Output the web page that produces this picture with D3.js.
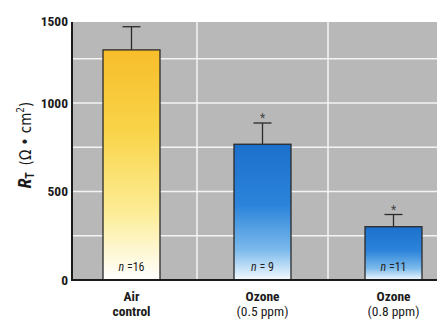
<!DOCTYPE html>
<html><head><meta charset="utf-8">
<script src="https://cdn.jsdelivr.net/npm/d3@7/dist/d3.min.js"></script>
<style>
body{margin:0;background:#fff;}
text{font-family:"Liberation Sans Narrow","Roboto Condensed","Arial Narrow","DejaVu Sans Condensed",sans-serif;font-stretch:condensed;}
</style></head>
<body><svg id="c" width="437" height="320"></svg>
<script>
const categories = ["Air control", "Ozone (0.5 ppm)", "Ozone (0.8 ppm)"];
const labelLine1 = ["Air", "Ozone", "Ozone"];
const labelLine2 = ["control", "(0.5 ppm)", "(0.8 ppm)"];
const means = [1300, 767, 301];
const errors = [131, 120, 69];
const nLabels = ["16", "9", "11"];
const significant = [false, true, true];
const yTicks = [0, 500, 1000, 1500];
const yGrid = [250, 500, 750, 1000, 1250];

const svg = d3.select("#c");
const left = 72, right = 459, bottom = 280, plotTop = 22;
const y = d3.scaleLinear().domain([0, 1500]).range([bottom, 14.5]);
const x = d3.scaleBand().domain(categories).range([66, right]).padding(0);
const barW = x.bandwidth() * 0.435;

const defs = svg.append("defs");
const gy = defs.append("linearGradient").attr("id","gy").attr("x1",0).attr("y1",0).attr("x2",0).attr("y2",1);
gy.append("stop").attr("offset","0%").attr("stop-color","#f7bd2b");
gy.append("stop").attr("offset","35%").attr("stop-color","#f9d448");
gy.append("stop").attr("offset","70%").attr("stop-color","#fcec94");
gy.append("stop").attr("offset","100%").attr("stop-color","#ffffff");
const gb = defs.append("linearGradient").attr("id","gb").attr("x1",0).attr("y1",0).attr("x2",0).attr("y2",1);
gb.append("stop").attr("offset","0%").attr("stop-color","#1c70cc");
gb.append("stop").attr("offset","45%").attr("stop-color","#2c84da");
gb.append("stop").attr("offset","78%").attr("stop-color","#7cbaec");
gb.append("stop").attr("offset","100%").attr("stop-color","#f4faff");

// background
svg.append("rect").attr("x", left).attr("y", plotTop).attr("width", 437 - left).attr("height", bottom - plotTop).attr("fill", "#b8b8b8");

// grid
svg.append("g").selectAll("line").data(yGrid).join("line")
  .attr("x1", left).attr("x2", 437).attr("y1", d => y(d)).attr("y2", d => y(d))
  .attr("stroke", "#f4f4f4").attr("stroke-width", 1.5);
svg.append("g").selectAll("line").data(categories.slice(1)).join("line")
  .attr("x1", d => x(d)).attr("x2", d => x(d)).attr("y1", plotTop).attr("y2", bottom)
  .attr("stroke", "#f4f4f4").attr("stroke-width", 1.5);

// bars
const g = svg.append("g").selectAll("g").data(categories).join("g");
g.append("rect")
  .attr("x", d => x(d) + x.bandwidth()/2 - barW/2)
  .attr("y", (d,i) => y(means[i]))
  .attr("width", barW)
  .attr("height", (d,i) => bottom - y(means[i]))
  .attr("fill", (d,i) => i === 0 ? "url(#gy)" : "url(#gb)")
  .attr("stroke", "#2a2a2a").attr("stroke-width", 1.3);
// error bars
g.append("line")
  .attr("x1", d => x(d) + x.bandwidth()/2).attr("x2", d => x(d) + x.bandwidth()/2)
  .attr("y1", (d,i) => y(means[i])).attr("y2", (d,i) => y(means[i] + errors[i]))
  .attr("stroke", "#2a2a2a").attr("stroke-width", 1.3);
g.append("line")
  .attr("x1", d => x(d) + x.bandwidth()/2 - 9).attr("x2", d => x(d) + x.bandwidth()/2 + 9)
  .attr("y1", (d,i) => y(means[i] + errors[i])).attr("y2", (d,i) => y(means[i] + errors[i]))
  .attr("stroke", "#2a2a2a").attr("stroke-width", 1.3);
g.filter((d,i) => significant[i]).append("text")
  .attr("x", d => x(d) + x.bandwidth()/2)
  .attr("y", d => y(means[categories.indexOf(d)] + errors[categories.indexOf(d)]) - 1)
  .attr("text-anchor", "middle").attr("font-size", 12).attr("fill", "#444")
  .text("*");
// n labels
const nt = g.append("text")
  .attr("x", d => x(d) + x.bandwidth()/2)
  .attr("y", 271)
  .attr("text-anchor", "middle").attr("font-size", 12).attr("fill", "#222");
nt.append("tspan").attr("font-style", "italic").text("n");
nt.append("tspan").text((d,i) => (i === 1 ? " = " : " =") + nLabels[i]);

// category labels
g.append("text").attr("x", d => x(d) + x.bandwidth()/2).attr("y", 301)
  .attr("text-anchor", "middle").attr("font-size", 13.5).attr("font-weight", "bold").attr("fill", "#1a1a1a")
  .text((d,i) => labelLine1[i]);
g.append("text").attr("x", d => x(d) + x.bandwidth()/2).attr("y", 315.5)
  .attr("text-anchor", "middle").attr("font-size", 13.5).attr("fill", "#1a1a1a")
  .attr("font-weight", (d,i) => i === 0 ? "bold" : "normal")
  .text((d,i) => labelLine2[i]);

// axes
const yAxis = svg.append("g").attr("transform", `translate(${left},0)`)
  .call(d3.axisLeft(y).tickValues(yTicks).tickFormat(d3.format("d")).tickSize(0).tickPadding(4));
yAxis.select(".domain").remove();
yAxis.selectAll(".tick").filter(d => y(d) < plotTop).attr("transform", `translate(0,${plotTop})`);
yAxis.selectAll("text").attr("font-size", 13.5).attr("font-weight", "bold").attr("fill", "#1a1a1a")
  .attr("font-family", '"Liberation Sans Narrow","Roboto Condensed","Arial Narrow",sans-serif');
svg.append("line").attr("x1", left).attr("x2", left).attr("y1", plotTop).attr("y2", bottom + 1)
  .attr("stroke", "#1a1a1a").attr("stroke-width", 2);
svg.append("line").attr("x1", left - 1).attr("x2", 437).attr("y1", bottom).attr("y2", bottom)
  .attr("stroke", "#1a1a1a").attr("stroke-width", 2);

// y title
const yt = svg.append("text").attr("transform", "translate(31,145) rotate(-90)")
  .attr("text-anchor", "middle").attr("font-size", 18).attr("fill", "#1a1a1a");
yt.append("tspan").attr("font-style", "italic").attr("font-weight", "bold").text("R");
yt.append("tspan").attr("font-size", 12).attr("font-weight", "bold").attr("dy", 3).text("T");
yt.append("tspan").attr("dy", -3).attr("font-family", "DejaVu Sans, sans-serif").attr("font-size", 15).text("\u2002(Ω • cm");
yt.append("tspan").attr("font-family", "DejaVu Sans, sans-serif").attr("font-size", 10).attr("dy", -7).text("2");
yt.append("tspan").attr("font-family", "DejaVu Sans, sans-serif").attr("font-size", 15).attr("dy", 7).text(")");
</script></body></html>
